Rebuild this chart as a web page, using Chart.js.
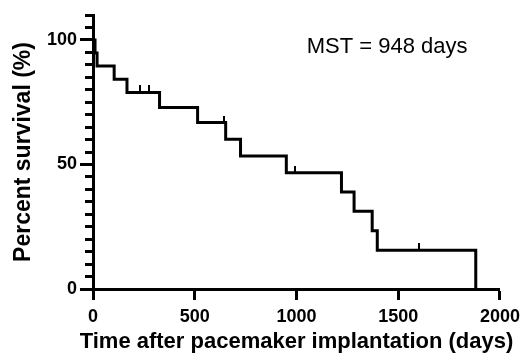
<!DOCTYPE html>
<html>
<head>
<meta charset="utf-8">
<title>Survival after pacemaker implantation</title>
<script src="https://cdn.jsdelivr.net/npm/chart.js@4.4.1/dist/chart.umd.min.js"></script>
<style>
  html, body { margin: 0; padding: 0; background: #ffffff; }
  #chart { display: block; }
</style>
</head>
<body>
<canvas id="chart" width="526" height="361"></canvas>
<script>
// Kaplan-Meier steps (days, percent survival)
const stepDays = [0, 10, 20, 104, 167, 327, 514, 652, 725, 950, 1221, 1283, 1372, 1397, 1881];
const stepSurvival = [100, 94.7, 89.5, 84.2, 78.9, 72.9, 66.8, 60.1, 53.4, 46.7, 38.9, 31.2, 23.4, 15.6, 0];

// Censored subjects (tick marks on the curve)
const censorDays = [233, 275, 644, 994, 1603];
const censorSurvival = [78.9, 78.9, 66.8, 46.7, 15.6];

const xTicks = [0, 500, 1000, 1500, 2000];
const yTicks = [0, 50, 100];

const xTitle = 'Time after pacemaker implantation (days)';
const yTitle = 'Percent survival (%)';
const mstLabel = 'MST = 948 days';
const mstAt = {x: 1050, y: 97};

const FONT = '"Liberation Sans", Arial, Helvetica, sans-serif';
Chart.defaults.font.family = FONT;
Chart.defaults.color = '#000';

// small vertical tick drawn only above the curve
function censorMark() {
  const c = document.createElement('canvas');
  c.width = 2;
  c.height = 14;
  const g = c.getContext('2d');
  g.fillStyle = '#000';
  g.fillRect(0, 0, 2, 7);
  return c;
}

// extra text: x axis title (wider than the plot) and the MST note
const textPlugin = {
  id: 'textPlugin',
  afterDraw(chart) {
    const {ctx, chartArea, scales} = chart;
    ctx.save();
    ctx.fillStyle = '#000';
    ctx.textBaseline = 'middle';

    ctx.font = 'bold 22px ' + FONT;
    ctx.textAlign = 'center';
    ctx.fillText(xTitle, (chartArea.left + chartArea.right) / 2, chart.height - 19);

    ctx.font = '22px ' + FONT;
    ctx.textAlign = 'left';
    ctx.fillText(mstLabel, scales.x.getPixelForValue(mstAt.x), scales.y.getPixelForValue(mstAt.y));
    ctx.restore();
  }
};

const curve = stepDays.map((d, i) => ({x: d, y: stepSurvival[i]}));
const censored = censorDays.map((d, i) => ({x: d, y: censorSurvival[i]}));

new Chart(document.getElementById('chart'), {
  type: 'line',
  data: {
    datasets: [
      {
        label: 'Survival',
        data: curve,
        stepped: 'before',
        borderColor: '#000',
        borderWidth: 3,
        borderJoinStyle: 'miter',
        pointRadius: 0,
        fill: false,
        tension: 0
      },
      {
        label: 'Censored',
        type: 'scatter',
        data: censored,
        pointStyle: censorMark(),
        pointRadius: 3,
        showLine: false
      }
    ]
  },
  options: {
    responsive: false,
    animation: false,
    events: [],
    layout: {
      padding: {left: 0, top: 15, right: 23, bottom: 0}
    },
    plugins: {
      legend: {display: false},
      tooltip: {enabled: false}
    },
    scales: {
      x: {
        type: 'linear',
        min: 0,
        max: 2000,
        afterBuildTicks: (scale) => {
          scale.ticks = xTicks.map(v => ({value: v}));
        },
        afterFit: (scale) => {
          scale.height = 72;
        },
        ticks: {
          font: {size: 18, weight: 'bold'},
          color: '#000',
          padding: 6,
          maxRotation: 0,
          callback: (v) => String(v)
        },
        grid: {
          drawOnChartArea: false,
          tickLength: 11,
          tickWidth: 3,
          tickColor: '#000'
        },
        border: {color: '#000', width: 3}
      },
      y: {
        min: 0,
        max: 110,
        afterFit: (scale) => {
          scale.width = 93;
        },
        ticks: {
          stepSize: 5,
          autoSkip: false,
          font: {size: 18, weight: 'bold'},
          color: '#000',
          padding: 3,
          callback: (v) => yTicks.includes(v) ? String(v) : ''
        },
        grid: {
          drawOnChartArea: false,
          tickLength: 13,
          tickWidth: 3,
          tickColor: '#000',
          // minor ticks are shorter: blank out their outer part
          tickBorderDash: (ctx) => yTicks.includes(ctx.tick.value) ? [] : [0, 5, 30, 0]
        },
        border: {color: '#000', width: 3},
        title: {
          display: true,
          text: yTitle,
          font: {size: 23, weight: 'bold'},
          color: '#000',
          padding: {top: 10, bottom: 0}
        }
      }
    }
  },
  plugins: [textPlugin]
});
</script>
</body>
</html>
